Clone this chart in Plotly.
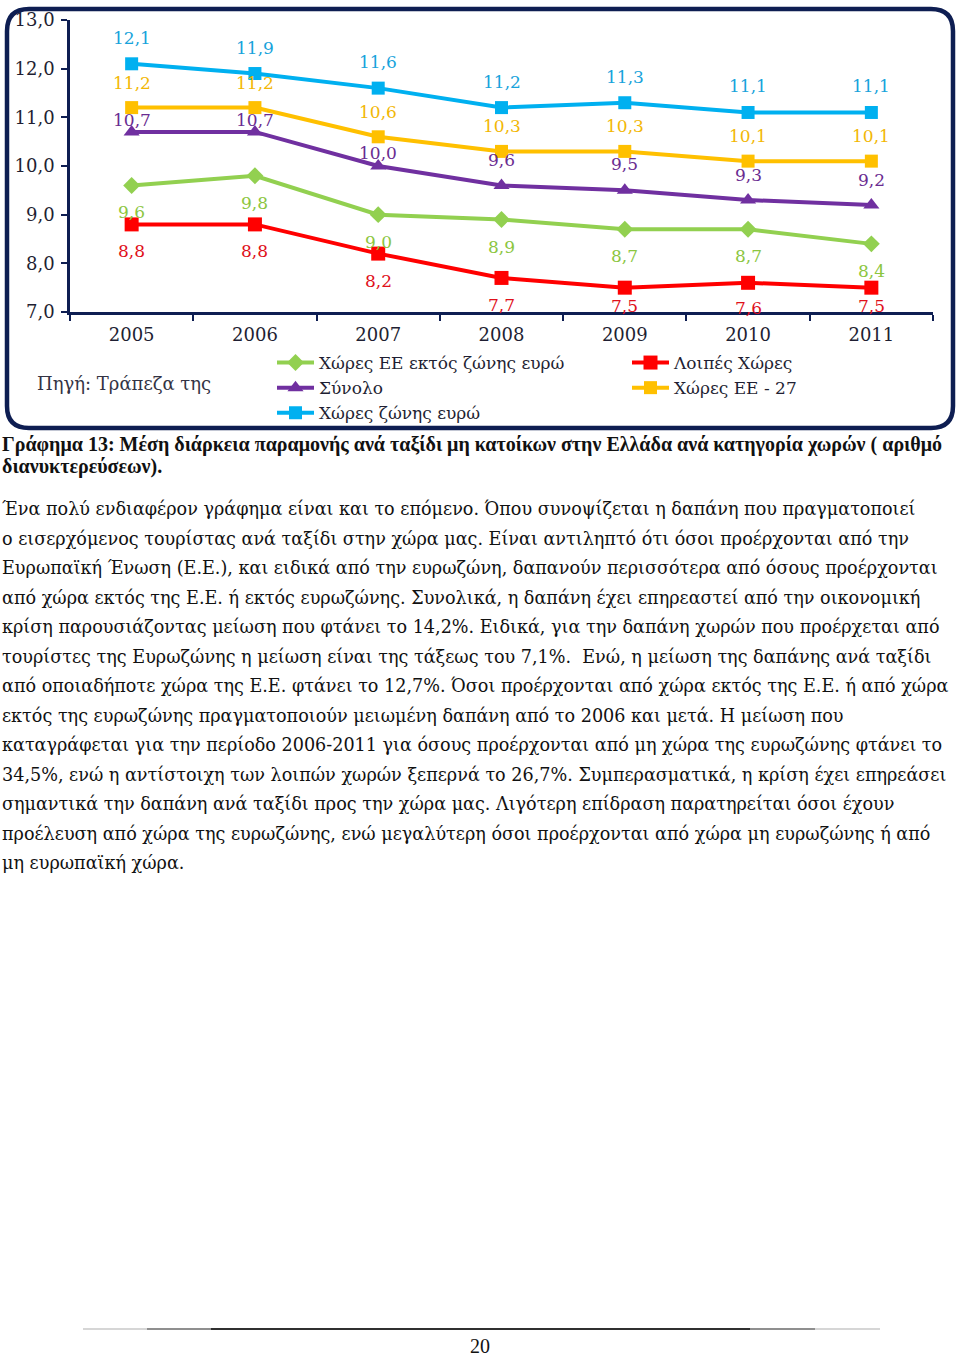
import plotly.graph_objects as go

# Δεδομένα: μέση διάρκεια παραμονής ανά ταξίδι (διανυκτερεύσεις)
years = ["2005", "2006", "2007", "2008", "2009", "2010", "2011"]
ee_ektos_zonis = [9.6, 9.8, 9.0, 8.9, 8.7, 8.7, 8.4]
loipes_xores = [8.8, 8.8, 8.2, 7.7, 7.5, 7.6, 7.5]
synolo = [10.7, 10.7, 10.0, 9.6, 9.5, 9.3, 9.2]
ee_27 = [11.2, 11.2, 10.6, 10.3, 10.3, 10.1, 10.1]
zoni_evrou = [12.1, 11.9, 11.6, 11.2, 11.3, 11.1, 11.1]

caption_lines = [
    "Γράφημα 13: Μέση διάρκεια παραμονής ανά ταξίδι μη κατοίκων στην Ελλάδα ανά κατηγορία χωρών ( αριθμό",
    "διανυκτερεύσεων).",
]
paragraph_lines = [
    "Ένα πολύ ενδιαφέρον γράφημα είναι και το επόμενο. Όπου συνοψίζεται η δαπάνη που πραγματοποιεί",
    "ο εισερχόμενος τουρίστας ανά ταξίδι στην χώρα μας. Είναι αντιληπτό ότι όσοι προέρχονται από την",
    "Ευρωπαϊκή Ένωση (Ε.Ε.), και ειδικά από την ευρωζώνη, δαπανούν περισσότερα από όσους προέρχονται",
    "από χώρα εκτός της Ε.Ε. ή εκτός ευρωζώνης. Συνολικά, η δαπάνη έχει επηρεαστεί από την οικονομική",
    "κρίση παρουσιάζοντας μείωση που φτάνει το 14,2%. Ειδικά, για την δαπάνη χωρών που προέρχεται από",
    "τουρίστες της Ευρωζώνης η μείωση είναι της τάξεως του 7,1%.  Ενώ, η μείωση της δαπάνης ανά ταξίδι",
    "από οποιαδήποτε χώρα της Ε.Ε. φτάνει το 12,7%. Όσοι προέρχονται από χώρα εκτός της Ε.Ε. ή από χώρα",
    "εκτός της ευρωζώνης πραγματοποιούν μειωμένη δαπάνη από το 2006 και μετά. Η μείωση που",
    "καταγράφεται για την περίοδο 2006-2011 για όσους προέρχονται από μη χώρα της ευρωζώνης φτάνει το",
    "34,5%, ενώ η αντίστοιχη των λοιπών χωρών ξεπερνά το 26,7%. Συμπερασματικά, η κρίση έχει επηρεάσει",
    "σημαντικά την δαπάνη ανά ταξίδι προς την χώρα μας. Λιγότερη επίδραση παρατηρείται όσοι έχουν",
    "προέλευση από χώρα της ευρωζώνης, ενώ μεγαλύτερη όσοι προέρχονται από χώρα μη ευρωζώνης ή από",
    "μη ευρωπαϊκή χώρα.",
]
page_number = "20"

# Γεωμετρία σελίδας (pixels)
W, H = 960, 1356
PL, PR, PT, PB = 70, 933, 20, 312
FONT = "DejaVu Serif"
NAVY = "#0E1E52"
TXT = "#1f1f33"


def px(x):
    return (x - PL) / (PR - PL)


def py(y):
    return (PB - y) / (PB - PT)


fig = go.Figure()

# (όνομα, τιμές, χρώμα, σύμβολο, μέγεθος, legend, χρώμα ετικέτας, μετατόπιση ετικέτας)
series = [
    ("Χώρες ΕΕ εκτός ζώνης ευρώ", ee_ektos_zonis, "#92D050", "diamond", 13, "legend", "#8CC63F", [-27] * 7),
    ("Λοιπές Χώρες", loipes_xores, "#FF0000", "square", 14, "legend2", "#E0101A",
     [-27, -27, -27, -27, -18, -25, -18]),
    ("Σύνολο", synolo, "#7030A0", "triangle-up", 14, "legend", "#6A2C91", [12, 12, 13, 25, 26, 25, 25]),
    ("Χώρες ΕΕ - 27", ee_27, "#FFC000", "square", 13, "legend2", "#F2B705", [25] * 7),
    ("Χώρες ζώνης ευρώ", zoni_evrou, "#00B0F0", "square", 13, "legend", "#17A3DB", [26] * 7),
]

annotations = []
for name, vals, color, symbol, size, leg, lab_color, shifts in series:
    fig.add_trace(
        go.Scatter(
            x=years, y=vals,
            mode="lines+markers",
            name=name,
            legend=leg,
            line=dict(color=color, width=4),
            marker=dict(color=color, symbol=symbol, size=size),
        )
    )
    # ετικέτες τιμών (σε άξονα κατηγοριών η θέση δίνεται ως δείκτης)
    for i, (v, s) in enumerate(zip(vals, shifts)):
        annotations.append(dict(
            x=i, y=v, xref="x", yref="y",
            text=f"{v:.1f}".replace(".", ","),
            showarrow=False, yshift=s,
            font=dict(family=FONT, size=17, color=lab_color),
        ))

# Πηγή
annotations.append(dict(
    x=px(35), y=py(383), xref="paper", yref="paper",
    xanchor="left", yanchor="middle", showarrow=False,
    text="Πηγή: Τράπεζα της",
    font=dict(family=FONT, size=18, color="#333344"),
))

# Λεζάντα
for i, line in enumerate(caption_lines):
    annotations.append(dict(
        x=px(0), y=py(444 + i * 22), xref="paper", yref="paper",
        xanchor="left", yanchor="middle", showarrow=False,
        text=f"<b>{line}</b>",
        font=dict(family="Liberation Serif", size=20, color="#111111"),
    ))

# Κείμενο
for i, line in enumerate(paragraph_lines):
    annotations.append(dict(
        x=px(0), y=py(509 + i * 29.5), xref="paper", yref="paper",
        xanchor="left", yanchor="middle", showarrow=False,
        text=line,
        font=dict(family=FONT, size=17.6, color="#111111"),
    ))

# Αριθμός σελίδας
annotations.append(dict(
    x=px(480), y=py(1346), xref="paper", yref="paper",
    xanchor="center", yanchor="middle", showarrow=False, height=16,
    text=page_number,
    font=dict(family="Liberation Serif", size=20, color="#111111"),
))

# Στρογγυλεμένο πλαίσιο γραφήματος
x0, y0, x1, y1, r = 7, 9, 953, 428, 22
pts = [
    ("M", x0 + r, y0), ("L", x1 - r, y0), ("Q", x1, y0, x1, y0 + r),
    ("L", x1, y1 - r), ("Q", x1, y1, x1 - r, y1), ("L", x0 + r, y1),
    ("Q", x0, y1, x0, y1 - r), ("L", x0, y0 + r), ("Q", x0, y0, x0 + r, y0),
]
path = ""
for p in pts:
    cmd, coords = p[0], p[1:]
    pairs = [f"{px(coords[k]):.5f},{py(coords[k + 1]):.5f}" for k in range(0, len(coords), 2)]
    path += cmd + " ".join(pairs) + " "
path += "Z"

shapes = [
    dict(type="path", path=path, xref="paper", yref="paper",
         line=dict(color=NAVY, width=4.5), fillcolor="rgba(0,0,0,0)", layer="above"),
    # γραμμή υποσέλιδου
    dict(type="line", xref="paper", yref="paper", x0=px(83), x1=px(880), y0=py(1329), y1=py(1329),
         line=dict(color="#c8c8c8", width=1.5)),
    dict(type="line", xref="paper", yref="paper", x0=px(147), x1=px(815), y0=py(1329), y1=py(1329),
         line=dict(color="#777777", width=1.5)),
    dict(type="line", xref="paper", yref="paper", x0=px(211), x1=px(750), y0=py(1329), y1=py(1329),
         line=dict(color="#111111", width=1.5)),
]

legend_common = dict(
    orientation="v", xanchor="left", yanchor="top",
    bgcolor="rgba(0,0,0,0)", borderwidth=0, itemwidth=37,
    font=dict(family=FONT, size=17, color=TXT),
    tracegroupgap=0,
)

fig.update_layout(
    width=W, height=H, autosize=False,
    margin=dict(l=PL, r=W - PR, t=PT, b=H - PB, pad=0),
    paper_bgcolor="white", plot_bgcolor="white",
    separators=", ",
    showlegend=True,
    legend=dict(x=px(272), y=py(345), **legend_common),
    legend2=dict(x=px(627), y=py(345), **legend_common),
    annotations=annotations,
    shapes=shapes,
    font=dict(family=FONT, size=17, color=TXT),
)

fig.update_xaxes(
    type="category", range=[-0.5, 6.5],
    showline=True, linecolor=NAVY, linewidth=2.5,
    ticks="outside", ticklen=6, tickwidth=2, tickcolor=NAVY,
    tickson="boundaries", showgrid=False, zeroline=False,
    ticklabelstandoff=5, automargin=False,
    tickfont=dict(family=FONT, size=18, color=TXT),
)
fig.update_yaxes(
    range=[7, 13], dtick=1, tickformat=".1f",
    showline=True, linecolor=NAVY, linewidth=2.5,
    ticks="outside", ticklen=6, tickwidth=2, tickcolor=NAVY,
    showgrid=False, zeroline=False, ticklabelstandoff=3, automargin=False,
    tickfont=dict(family=FONT, size=18, color=TXT),
)

fig.write_html(
    "out.html",
    config={"displayModeBar": False},
    post_script="document.body.style.margin='0';document.body.style.overflow='hidden';",
)
